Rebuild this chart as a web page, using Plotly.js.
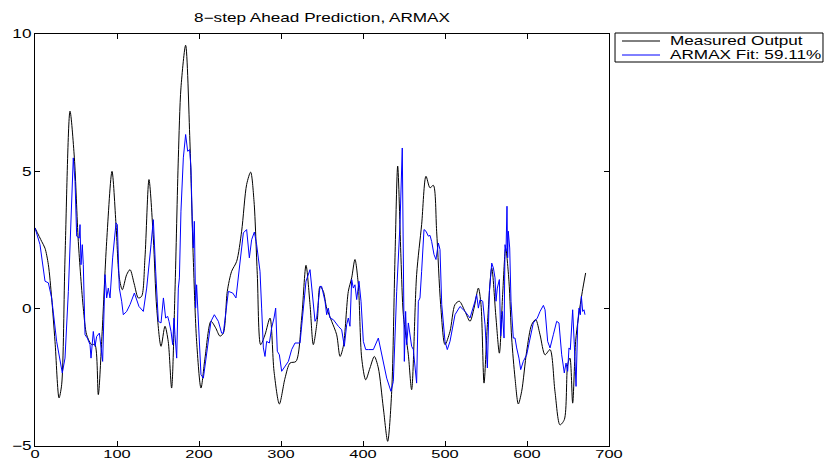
<!DOCTYPE html>
<html>
<head>
<meta charset="utf-8">
<script src="https://cdn.plot.ly/plotly-3.0.1.min.js"></script>
<style>html,body{margin:0;padding:0;background:#fff;}#chart{width:825px;height:462px;}</style>
</head>
<body>
<div id="chart"></div>
<script>
// Measured output (sample index, value)
const measX = [0, 8.1, 12.2, 16.3, 20.3, 24.4, 29.3, 32.5, 36.6, 42.7, 48, 52.8, 58.9, 63, 69.1, 73, 77.2, 81.3, 87.4, 93.9, 98.8, 102.8, 106.5, 111.8, 115.9,
  121, 126, 130, 134.1, 139, 144.3, 148.4, 153.7, 158.5, 162.5, 166.6, 170.7, 174.8, 178, 183.7, 188.9, 193, 197.1, 202.4, 207.3, 214.6, 220.3, 225.6,
  229.7, 234.5, 239.8, 245.9, 252, 258.1, 263, 267.1, 271.1, 275.2, 280.5, 286.6, 291.5, 298, 304.9, 311, 318.3, 325.2, 330.5, 335.4, 339.4, 344.3,
  347.6, 351.6, 355.7, 361.8, 367.9, 372, 376, 382.1, 386.2, 390.2, 394.3, 398.4, 403.3, 408.5, 413.8, 418.7, 424.8, 430.1, 435, 439, 442.3, 446.3, 449.2, 455.3, 459.3,
  465.4, 471.5, 476.8, 481.7, 485.8, 489.8, 494.7, 500, 506.1, 512.2, 517.5, 524.4, 530.5, 535.4, 540.7, 543.9, 547.6, 551.7, 557, 562.2, 566.3, 570.3, 574, 578,
  581.3, 585.4, 589.4, 593.5, 599.6, 605.7, 610.6, 615.9, 622, 628.1, 634.1, 640.2, 645.5, 649.6, 652.4, 655.7, 659.3, 662.6, 667.5, 671.5];
const measY = [2.94, 2.45, 2.2, 1.6, 0.39, -1.19, -3.25, -2.77, 1.85, 7.19, 5.49, 2.45, 0.02, -0.95, -1.31, -1.3, -3.13, -1.19, 2.45, 5.0, 3.06, 1.12, 0.69, 1.24, 1.42,
  0.9, 0.39, 0.45, 1.85, 4.7, 2.57, 0.02, -1.37, -0.64, -1.2, -2.89, 0.63, 5.49, 8.04, 9.59, 6.1, 1.85, -1.19, -2.89, -1.8, -0.46, -0.7, -1.0,
  -0.89, 0.63, 1.36, 1.72, 2.82, 4.52, 4.97, 3.91, 1.24, -1.31, -0.95, -0.34, -2.28, -3.47, -2.53, -1.98, -1.92, -0.34, 1.58, 0.15, -1.31, -0.4,
  0.81, 0.63, 0.02, -0.46, -0.95, -1.74, -1.37, 0.63, 1.12, 1.79, 0.87, -1.8, -2.59, -2.16, -1.74, -2.16, -3.62, -4.83, -3.01, 1.85, 5.19, 1.85, -0.22, -1.68, -2.95,
  1.24, 3.06, 4.82, 4.4, 4.49, 2.82, 0.15, -1.31, -0.83, 0.15, 0.27, -0.1, -0.46, 0.02, 0.75, 0.15, -2.71, -0.58, 1.48, -0.34, -1.62, 0.51, 2.2, 1.0,
  -1.07, -2.53, -3.47, -3.01, -1.55, -0.58, -0.4, -0.95, -1.68, -1.49, -3.01, -4.23, -4.04, -2.04, -1.8, -3.44, -1.19, -0.34, 0.63, 1.3];

// ARMAX 8-step ahead prediction
const fitX = [0, 6.1, 12.2, 16.3, 20.3, 26.4, 33.3, 36.6, 40.7, 44.7, 46.7, 48.8, 50.8, 54, 54.9, 56.1, 57.7, 58.9, 61, 63.8, 67.1, 68.3, 71.1, 73.2, 75.2, 78.5, 80.1, 82.5, 85.4, 87.4, 89.4, 91.5, 94.7, 98.8, 100.4, 102.8, 105.7, 107.7, 111.8,
  115.9, 121.2, 126.8, 132.1, 136.2, 141.5, 144.3, 147.2, 150.4, 153.7, 156.6, 159.3, 161.8, 163.4, 165.9, 167.9, 169.5, 170.7, 172.8, 174.8, 176.1, 178, 180.9, 183.7, 186.2, 188.6, 190.2, 191.9, 193, 194.3, 195.9, 197.1, 199.2, 202.4, 205.3, 209.3, 214.6, 218.7, 223.6, 227.6,
  229.7, 235.8, 241.1, 245.1, 250, 254.1, 258.1, 261.4, 264.2, 267.5, 270.3, 274.4, 276.4, 278.5, 280.5, 282.5, 285.8, 288.6, 291.5, 293.5, 295.5, 298, 300.8, 304.9, 309, 313, 317.1, 323.2, 327.2, 330.5, 335.4, 338.6, 341.5, 343.5, 345.5,
  347.6, 349.6, 353.7, 355.7, 357.7, 359.8, 363.8, 369.9, 374, 377.2, 380.1, 382.1, 384.1, 386.2, 388.2, 390.2, 392.3, 395.1, 397.6, 400.4, 403.3, 406.5, 412.6, 418.7, 422.8, 428.9, 434.1, 437, 441.1, 445.1, 447.9, 449.2, 450.4, 452, 453.3, 455.3, 457.3, 459.3, 461.4,
  465.4, 467.5, 469.5, 471.5, 474.4, 476.8, 479.7, 481.7, 483.7, 486.6, 489, 491.9, 493.9, 496, 500, 502.8, 506.1, 512.2, 518.3, 524.4, 530.5, 536.6, 538.6, 540.7, 542.7, 546, 548.8, 551.7, 554.1, 557, 559, 561, 562.2, 563.8, 566.3, 567.9, 569.9, 572, 573.2, 574.4, 575.6, 576.4, 577.2, 578.9,
  580.5, 583.3, 585.4, 587.4, 590.2, 592.3, 595.5, 599.6, 603.7, 607.7, 612.6, 615.9, 620, 622, 625.2, 628.1, 632.1, 636.2, 639, 642.3, 645.5, 647.6, 649.6, 651.2, 652.8, 655.7, 657.7, 659.8, 661.8, 663.4, 665.1, 666.3, 667.9, 669.5, 670.7];
const fitY = [2.94, 2.33, 1.0, 0.94, 0.39, -1.19, -2.34, -1.8, 0.63, 3.67, 5.49, 4.64, 2.64, 2.57, 3.06, 1.6, 2.33, 1.6, -0.95, -1.07, -1.31, -1.8, -0.83, -1.37, -1.01, -0.89, -1.31, -1.92, 1.24, 0.39, 0.75, 0.39, 1.85, 3.12, 3.06, 0.75, 0.27, -0.22, -0.1,
  0.15, 0.57, 0.08, -0.1, 0.75, 2.33, 3.24, 1.36, -0.46, -0.52, 0.39, -0.34, -0.28, -0.46, -0.83, -1.31, -0.34, -0.95, -1.8, 0.75, 1.12, 3.55, 5.49, 6.34, 5.73, 5.79, 5.12, 3.06, 2.21, 3.18, 0.02, 0.87, -0.58, -2.4, -2.53, -1.55, -0.46, -0.22, -0.46, -0.89,
  -0.89, 0.63, 0.57, 0.39, 1.6, 2.76, 2.88, 1.85, 2.51, 2.79, 2.33, 1.36, 0.02, -1.43, -1.74, -1.19, -1.25, -0.7, -0.34, 0.02, -1.55, -1.68, -2.28, -2.1, -1.92, -1.49, -1.25, -1.25, -0.1, 1.0, 1.42, 0.27, -0.46, -0.34, 0.33,
  0.81, 0.81, 0.27, -0.22, 0.02, -0.34, -0.4, -0.64, -0.77, -1.37, -0.58, -0.34, -0.64, 1.06, 0.75, 0.87, 0.33, 1.0, 0.27, -1.19, -1.49, -1.49, -1.49, -1.07, -1.68, -2.53, -3.01, -2.65, 0.63, 3.06, 5.85, 0.63, -1.92, -0.1, -1.31, -0.52, -1.07, -1.37, -1.49,
  -2.71, 0.27, 0.39, 1.36, 2.88, 2.82, 2.64, 2.67, 2.45, 1.97, 1.79, 2.39, 2.15, 0.15, -1.19, -1.49, -1.19, -0.22, 0.08, -0.1, -0.34, 0.27, 0.51, 0.02, 0.33, 0.27, -0.58, -2.16, 0.63, 1.66, 1.48, 1.12, 0.27, 0.75, 1.06, -1.0, -0.1, -1.07, 2.33, 2.09, 3.73, 1.85, 2.82, 2.21,
  0.27, -1.07, -1.07, -1.43, -1.8, -2.22, -1.92, -1.68, -1.07, -0.52, -0.34, -0.1, 0.12, -0.04, -1.19, -1.43, -0.95, -0.46, -0.52, -1.68, -2.34, -1.98, -2.28, -1.43, -1.49, -0.04, -1.31, -2.83, -0.58, 0.02, -0.22, 0.45, -0.1, -0.04, -0.22];

const titleText = '8\u2212step Ahead Prediction, ARMAX';
const measName = 'Measured Output';
const fitName = 'ARMAX Fit: 59.11%';
const xTicks = [0, 100, 200, 300, 400, 500, 600, 700];
const yTicks = [-5, 0, 5, 10];

const FONT = 'Liberation Sans, Arial, Helvetica, sans-serif';
const TEXT_STRETCH = 1.43; // the reference figure's text is horizontally stretched

const traces = [
  {x: measX, y: measY, type: 'scatter', mode: 'lines', name: measName,
   line: {color: '#000000', width: 1, shape: 'spline', smoothing: 0.8}, showlegend: false},
  {x: fitX, y: fitY, type: 'scatter', mode: 'lines', name: fitName,
   line: {color: '#0000ff', width: 1}, showlegend: false}
];

const axisCommon = {
  showline: true, linecolor: '#000', linewidth: 1, mirror: 'ticks',
  ticks: 'inside', ticklen: 5, tickcolor: '#000', tickwidth: 1,
  showgrid: false, zeroline: false,
  tickfont: {family: FONT, size: 12, color: '#000'}
};

const layout = {
  width: 825, height: 462,
  margin: {l: 35, r: 216, t: 34, b: 16, pad: 0},
  paper_bgcolor: '#fff', plot_bgcolor: '#fff',
  title: {text: titleText, font: {family: FONT, size: 12, color: '#000'},
          xref: 'paper', x: 0.5, xanchor: 'center', yref: 'container', y: 1 - 18/462, yanchor: 'middle'},
  xaxis: Object.assign({}, axisCommon, {range: [0, 700], tickvals: xTicks, ticktext: xTicks.map(String), tickfont: {family: FONT, size: 11.5, color: '#000'}}),
  yaxis: Object.assign({}, axisCommon, {range: [-5, 10], tickvals: yTicks, ticktext: yTicks.map(v => v < 0 ? '\u2212' + Math.abs(v) : String(v))}),
  showlegend: false,
  shapes: [
    {type: 'rect', xref: 'paper', yref: 'paper', x0: 1.0105, x1: 1.3728, y0: 1 - 28/412, y1: 1 + 1/412,
     line: {color: '#000', width: 1}, fillcolor: '#fff'},
    {type: 'line', xref: 'paper', yref: 'paper', x0: 1.0227, x1: 1.0889, y0: 1 - 7/412, y1: 1 - 7/412,
     line: {color: '#000', width: 1}},
    {type: 'line', xref: 'paper', yref: 'paper', x0: 1.0227, x1: 1.0889, y0: 1 - 21/412, y1: 1 - 21/412,
     line: {color: '#0000ff', width: 1}}
  ],
  annotations: [
    {text: measName, xref: 'paper', yref: 'paper', x: 1.1028, y: 1 - 7/412, xanchor: 'left', yanchor: 'middle',
     showarrow: false, font: {family: FONT, size: 12, color: '#000'}},
    {text: fitName, xref: 'paper', yref: 'paper', x: 1.1028, y: 1 - 21/412, xanchor: 'left', yanchor: 'middle',
     showarrow: false, font: {family: FONT, size: 12, color: '#000'}}
  ]
};

Plotly.newPlot('chart', traces, layout, {staticPlot: true, displayModeBar: false}).then(gd => {
  gd.querySelectorAll('svg text').forEach(t => {
    if (!t.textContent.trim()) return;
    const bb = t.getBBox();
    const anchor = t.getAttribute('text-anchor') || 'start';
    let ox;
    if (t.classList.contains('annotation-text') || anchor === 'start') ox = bb.x;
    else if (anchor === 'end') ox = bb.x + bb.width;
    else ox = bb.x + bb.width / 2;
    let dy = 0;
    // x tick labels sit a little higher in the reference, close to the axis
    if (t.parentNode && t.parentNode.classList && t.parentNode.classList.contains('xtick')) dy = -3;
    const tr = t.getAttribute('transform') || '';
    t.setAttribute('transform', tr + ' translate(' + ox + ',' + dy + ') scale(' + TEXT_STRETCH + ',1) translate(' + (-ox) + ',0)');
  });
});
</script>
</body>
</html>
